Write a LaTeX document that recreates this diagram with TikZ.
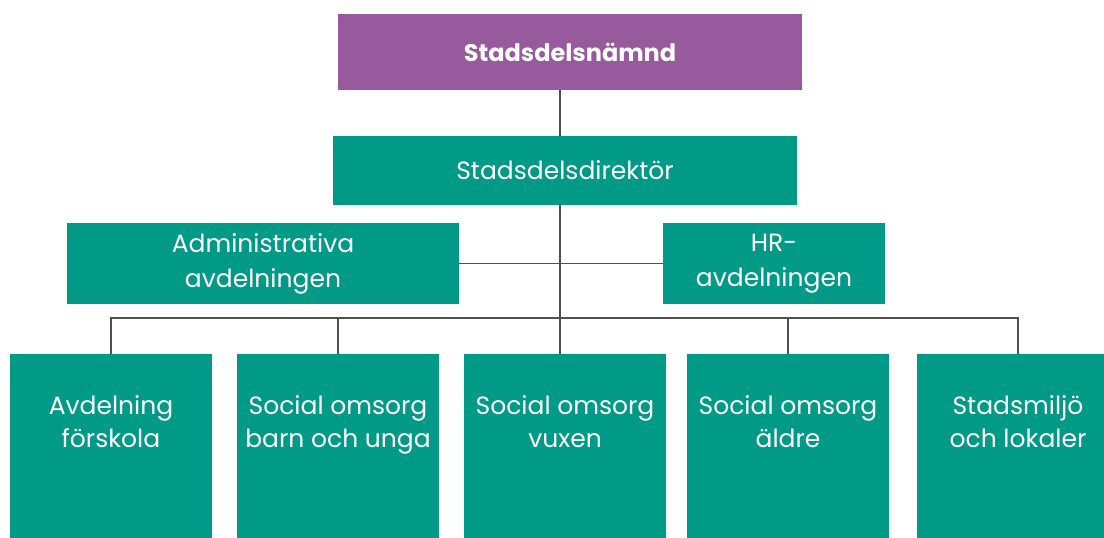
\documentclass[tikz,border=0pt]{standalone}
\usepackage{fontspec}
\setmainfont{Poppins}
\usetikzlibrary{positioning,backgrounds}
\definecolor{sdnpurple}{HTML}{965A9D}
\definecolor{sdnteal}{HTML}{009A86}
\definecolor{sdnline}{HTML}{505050}

\begin{document}
\begin{tikzpicture}[x=1pt,y=-1pt,
    box/.style={fill=sdnteal, text=white, align=center, inner sep=0pt,
      font=\fontsize{25}{35}\selectfont},
    topbox/.style={box, fill=sdnpurple, font=\fontsize{24}{34}\selectfont\bfseries},
    leaf/.style={box, minimum width=202pt, minimum height=200pt},
    leaftext/.style={anchor=north, yshift=-38pt, text=white, align=center,
      font=\fontsize{25}{33}\selectfont},
    conn/.style={draw=sdnline, line width=1.4pt}]
        % page frame
        \useasboundingbox (0,0) rectangle (1104,538);
        \clip (0,0) rectangle (1104,538);
        % coordinates for the lines
        \coordinate (trunk) at (560,   0);
        \coordinate (bus)   at (560, 318);
        % board and director
        \node[topbox, minimum width=464pt, minimum height=76pt] (nmd) at (570, 52)  {Stadsdelsnämnd};
        \node[box,    minimum width=464pt, minimum height=69pt] (dir) at (565, 170.5) {Stadsdelsdirektör};
        % staff units
        \node[box, minimum width=392pt, minimum height=81pt] (adm) at (263, 263.5) {Administrativa\\avdelningen};
        \node[box, minimum width=222pt, minimum height=81pt] (hr)  at (774, 263.5) {HR-\\avdelningen};
        % departments
        \node[leaf, anchor=north, label={[leaftext]north:Avdelning\\förskola}]        (fsk) at (111, 354) {};
        \node[leaf, anchor=north, label={[leaftext]north:Social omsorg\\barn och unga}] (bou) at (338, 354) {};
        \node[leaf, anchor=north, label={[leaftext]north:Social omsorg\\vuxen}]      (vux) at (565, 354) {};
        \node[leaf, anchor=north, label={[leaftext]north:Social omsorg\\äldre}]      (ald) at (788, 354) {};
        \node[leaf, anchor=north, label={[leaftext]north:Stadsmiljö\\och lokaler}]   (sml) at (1018, 354) {};
        % drawing the lines behind the boxes
        \begin{scope}[on background layer]
          \draw[conn] (nmd.south -| trunk) -- (vux.north -| trunk);
          \draw[conn] (adm.east) -- (hr.west);
          \draw[conn] (fsk.north) |- (bus) -| (sml.north);
          \draw[conn] (bou.north) -- (bou.north |- bus);
          \draw[conn] (ald.north) -- (ald.north |- bus);
        \end{scope}
      \end{tikzpicture}
\end{document}
